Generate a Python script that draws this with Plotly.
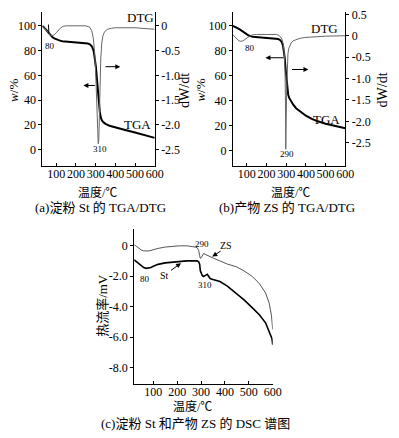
import plotly.graph_objects as go

W, H = 399, 438

# ---------------- data ----------------
# (a) starch St
a_tga_x = [30, 40, 50, 60, 70, 80, 90, 100, 115, 130, 160, 200, 240, 260, 272, 282, 290, 296, 301, 306, 311, 316, 321, 326, 332, 340, 350, 370, 400, 450, 500, 550, 600]
a_tga_w = [100, 98.5, 96.5, 94.5, 92.5, 91, 89.8, 89, 88.2, 87.6, 87.2, 87, 86.5, 85.8, 84.8, 83, 79.5, 74, 67, 58, 48, 38, 30.5, 26, 23.5, 22, 20.8, 19.3, 17.8, 15.8, 13.8, 11.8, 9.5]
a_dtg_x = [30, 40, 50, 60, 70, 80, 90, 100, 110, 120, 135, 150, 200, 250, 270, 280, 288, 295, 300, 305, 310, 313, 316, 319, 322, 326, 331, 337, 345, 360, 380, 400, 500, 560, 600]
a_dtg_v = [0, -0.05, -0.11, -0.16, -0.19, -0.2, -0.18, -0.14, -0.09, -0.05, -0.01, 0, 0, 0, -0.03, -0.1, -0.25, -0.55, -0.95, -1.5, -2.05, -2.38, -2.3, -1.8, -1.2, -0.65, -0.35, -0.2, -0.12, -0.07, -0.05, -0.04, -0.04, -0.05, -0.07]

# (b) product ZS
b_tga_x = [30, 40, 50, 60, 70, 80, 95, 110, 130, 160, 200, 240, 260, 270, 278, 284, 289, 293, 297, 301, 305, 310, 316, 324, 335, 350, 370, 400, 430, 460, 500, 550, 600]
b_tga_w = [100, 99.3, 98.5, 97.5, 96.5, 95.5, 93.5, 92.2, 91.3, 90.8, 90.4, 90, 89.4, 88.5, 86.8, 84, 80, 74, 66, 57, 50, 45, 42, 39.5, 37, 34, 31.5, 28, 25.5, 23.5, 21.5, 19.5, 18]
b_dtg_x = [30, 40, 50, 60, 70, 80, 90, 100, 115, 130, 150, 200, 250, 262, 272, 280, 286, 290, 294, 296, 298, 300, 303, 306, 309, 313, 318, 325, 335, 350, 370, 400, 450, 500, 600]
b_dtg_v = [0.02, -0.03, -0.08, -0.12, -0.13, -0.12, -0.09, -0.05, -0.01, 0.02, 0.03, 0.03, 0.03, 0.01, -0.03, -0.1, -0.22, -0.4, -0.8, -1.4, -2.65, -2.0, -1.2, -0.7, -0.42, -0.3, -0.22, -0.17, -0.12, -0.09, -0.06, -0.04, -0.02, -0.01, 0.0]

# (c) DSC
st_x = [20, 30, 40, 50, 60, 70, 80, 90, 100, 120, 150, 180, 210, 240, 265, 283, 290, 294, 297, 301, 305, 310, 315, 320, 326, 332, 338, 350, 379, 410, 447, 480, 515, 545, 570, 590, 597, 600]
st_y = [-0.92, -1.05, -1.2, -1.33, -1.43, -1.48, -1.47, -1.42, -1.35, -1.22, -1.12, -1.06, -1.02, -0.99, -0.98, -0.99, -1.05, -1.2, -1.65, -1.85, -1.95, -2.02, -2.0, -1.93, -1.87, -2.0, -2.15, -2.22, -2.35, -2.65, -3.1, -3.55, -4.08, -4.55, -5.06, -5.8, -6.1, -6.5]
zs_x = [20, 30, 40, 50, 60, 70, 80, 90, 100, 120, 150, 180, 210, 240, 260, 275, 284, 290, 294, 297, 301, 306, 311, 320, 335, 353, 380, 410, 447, 480, 515, 545, 570, 585, 595, 600]
zs_y = [0.08, -0.05, -0.18, -0.28, -0.33, -0.35, -0.34, -0.3, -0.25, -0.17, -0.08, -0.03, 0.0, 0.0, -0.03, -0.08, -0.13, -0.3, -0.65, -0.82, -0.78, -0.6, -0.5, -0.58, -0.7, -0.82, -1.0, -1.2, -1.37, -1.65, -2.02, -2.5, -3.1, -3.75, -4.6, -5.5]

x_ticks = [100, 200, 300, 400, 500, 600]
w_ticks = [0, 20, 40, 60, 80, 100]
a_dtg_ticks = [0, -0.5, -1.0, -1.5, -2.0, -2.5]
b_dtg_ticks = [0.5, 0, -0.5, -1.0, -1.5, -2.0, -2.5]
c_ticks = [0, -2.0, -4.0, -6.0, -8.0]

# ---------------- helpers ----------------
SERIF = "Liberation Serif"
MIXED = "Liberation Serif, Noto Sans CJK SC"


def fx(px):
    return px / W


def fy(py):
    return 1 - py / H


def lab(v):
    if v == 0:
        return "0"
    return f"{v:.1f}"


fig = go.Figure()

# (a)
fig.add_trace(go.Scatter(x=a_tga_x, y=a_tga_w, mode="lines", line=dict(color="black", width=2), xaxis="x", yaxis="y", showlegend=False))
fig.add_trace(go.Scatter(x=a_dtg_x, y=a_dtg_v, mode="lines", line=dict(color="#666666", width=1), xaxis="x", yaxis="y2", showlegend=False))
# (b)
fig.add_trace(go.Scatter(x=b_tga_x, y=b_tga_w, mode="lines", line=dict(color="black", width=2), xaxis="x2", yaxis="y3", showlegend=False))
fig.add_trace(go.Scatter(x=b_dtg_x, y=b_dtg_v, mode="lines", line=dict(color="#666666", width=1), xaxis="x2", yaxis="y4", showlegend=False))
# (c)
fig.add_trace(go.Scatter(x=zs_x, y=zs_y, mode="lines", line=dict(color="#555555", width=1), xaxis="x3", yaxis="y5", showlegend=False))
fig.add_trace(go.Scatter(x=st_x, y=st_y, mode="lines", line=dict(color="black", width=1.6), xaxis="x3", yaxis="y5", showlegend=False))

tickfont = dict(family=SERIF, size=12, color="black")
ycommon = dict(showline=True, linecolor="black", linewidth=1, showgrid=False, zeroline=False,
               ticks="outside", ticklen=3, tickcolor="black", tickwidth=1, tickfont=tickfont)
xcommon = dict(showline=True, linecolor="black", linewidth=1, showgrid=False, zeroline=False,
               ticks="inside", ticklen=3, tickcolor="black", tickwidth=1, tickfont=tickfont,
               ticklabelstandoff=-3, tickangle=0)

dom_top = fy(8)
dom_bot = fy(163)

fig.update_layout(
    width=W, height=H, margin=dict(l=0, r=0, t=0, b=0, pad=0), autosize=False,
    paper_bgcolor="white", plot_bgcolor="white",
    xaxis=dict(domain=[fx(43.3), fx(158.3)], range=[29, 600], anchor="y", tickvals=x_ticks, **xcommon),
    yaxis=dict(domain=[dom_bot, dom_top], range=[-12.8, 111.2], anchor="x", tickvals=w_ticks, **ycommon),
    yaxis2=dict(range=[-2.82, 0.28], overlaying="y", side="right", anchor="x",
                tickvals=a_dtg_ticks, ticktext=[lab(v) for v in a_dtg_ticks], **ycommon),
    xaxis2=dict(domain=[fx(238.3), fx(353.3)], range=[30, 600], anchor="y3", tickvals=x_ticks, **xcommon),
    yaxis3=dict(domain=[dom_bot, dom_top], range=[-11.9, 111.1], anchor="x2", tickvals=w_ticks, **ycommon),
    yaxis4=dict(range=[-3.032, 0.556], overlaying="y3", side="right", anchor="x2",
                tickvals=b_dtg_ticks, ticktext=[lab(v) for v in b_dtg_ticks], **ycommon),
    xaxis3=dict(domain=[fx(137.3), fx(279)], range=[20, 600], anchor="y5", tickvals=x_ticks, **xcommon),
    yaxis5=dict(domain=[fy(383.3), fy(226.7)], range=[-9.07, 1.13], anchor="x3",
                tickvals=c_ticks, ticktext=[lab(v) for v in c_ticks], **ycommon),
)

ann = []


def ptext(text, px, py, size=12, angle=0, family=MIXED):
    ann.append(dict(text=text, x=fx(px), y=fy(py), xref="paper", yref="paper", showarrow=False,
                    xanchor="center", yanchor="middle", textangle=angle,
                    font=dict(family=family, size=size, color="black")))


def dtext(text, x, y, xr, yr, size=9):
    ann.append(dict(text=text, x=x, y=y, xref=xr, yref=yr, showarrow=False,
                    xanchor="center", yanchor="middle", font=dict(family=SERIF, size=size, color="black")))


def arrow(x0, y0, x1, y1, xr, yr, head=2):
    ann.append(dict(text="", x=x1, y=y1, ax=x0, ay=y0, xref=xr, yref=yr, axref=xr, ayref=yr,
                    showarrow=True, arrowhead=head, arrowsize=1, arrowwidth=1, arrowcolor="black"))


# axis titles
ptext("<i>w</i>/%", 14, 87, size=13, angle=-90, family=SERIF)
ptext("dW/dt", 188, 87, size=14, angle=-90, family=SERIF)
ptext("<i>w</i>/%", 205, 87, size=13, angle=-90, family=SERIF)
ptext("dW/dt", 391, 87, size=14, angle=-90, family=SERIF)
ptext("热流率/mV", 105, 304, size=13, angle=-90)
ptext("温度/℃", 100, 190, size=12)
ptext("温度/℃", 297, 190, size=12)
ptext("温度/℃", 197, 406, size=12)
ptext("(a)淀粉 St 的 TGA/DTG", 103, 205, size=13)
ptext("(b)产物 ZS 的 TGA/DTG", 294, 205, size=13)
ptext("(c)淀粉 St 和产物 ZS 的 DSC 谱图", 200, 423, size=13)

# (a) labels
dtext("DTG", 527, 107, "x", "y", size=13)
dtext("TGA", 510, 20, "x", "y", size=13)
dtext("310", 320, 0.5, "x", "y", size=9)
dtext("80", 67, 84, "x", "y", size=9)
arrow(342, 67, 425, 67, "x", "y")
arrow(303.7, 51.8, 237.5, 51.8, "x", "y")
arrow(63, 93, 60, 101, "x", "y", head=0)

# (b) labels
dtext("DTG", 496, 97.6, "x2", "y3", size=13)
dtext("TGA", 504, 24.8, "x2", "y3", size=13)
dtext("290", 306, -2.9, "x2", "y3", size=9)
dtext("80", 119, 82.5, "x2", "y3", size=9)
arrow(294, 74.4, 195, 74.4, "x2", "y3")
arrow(322, 65, 413, 65, "x2", "y3")

# (c) labels
dtext("290", 305, 0.1, "x3", "y5", size=9)
dtext("ZS", 405, 0.0, "x3", "y5", size=10)
dtext("St", 145, -1.94, "x3", "y5", size=10)
dtext("80", 65, -2.15, "x3", "y5", size=9)
dtext("310", 315, -2.58, "x3", "y5", size=9)
arrow(388, -0.28, 347, -0.71, "x3", "y5")
arrow(168, -1.68, 216, -1.14, "x3", "y5")

fig.update_layout(annotations=ann)
fig.write_html("out.html", config={"displayModeBar": False},
               post_script="document.body.style.margin='0';document.body.style.padding='0';")
